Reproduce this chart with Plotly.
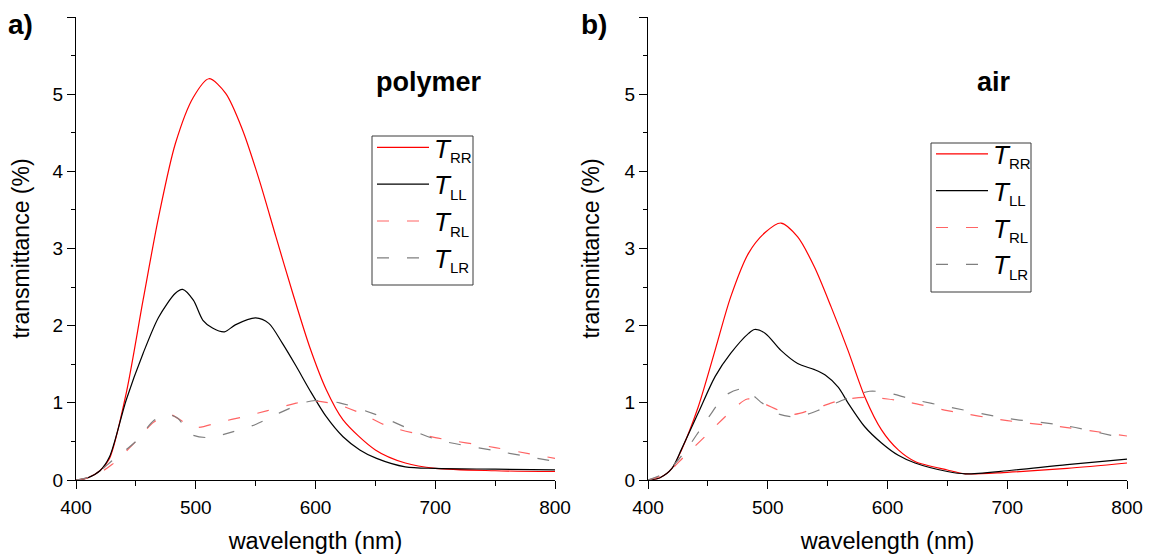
import plotly.graph_objects as go

# ---- data (wavelength in nm, transmittance in %) ----
wl_rr_a = [400, 410, 420, 428, 442, 456, 469, 483, 498, 511, 525, 539, 553, 567, 581, 595, 609, 623, 650, 675, 700, 750, 800]
t_rr_a = [0.0, 0.03, 0.12, 0.28, 1.13, 2.33, 3.41, 4.36, 4.96, 5.20, 5.01, 4.54, 3.89, 3.15, 2.42, 1.73, 1.17, 0.78, 0.39, 0.22, 0.15, 0.12, 0.11]

wl_ll_a = [400, 410, 420, 428, 442, 456, 469, 483, 489, 498, 506, 514, 524, 533, 550, 561, 572, 584, 595, 609, 623, 637, 651, 675, 700, 750, 800]
t_ll_a = [0.0, 0.03, 0.12, 0.3, 1.04, 1.64, 2.11, 2.42, 2.47, 2.33, 2.07, 1.97, 1.92, 2.01, 2.10, 2.03, 1.78, 1.47, 1.17, 0.82, 0.56, 0.39, 0.28, 0.17, 0.15, 0.14, 0.13]

wl_rl_a = [400, 415, 430, 450, 465, 478, 490, 500, 520, 540, 560, 580, 595, 620, 640, 660, 700, 750, 800]
t_rl_a = [0.0, 0.05, 0.2, 0.5, 0.75, 0.85, 0.75, 0.68, 0.75, 0.82, 0.9, 0.98, 1.03, 0.97, 0.85, 0.7, 0.55, 0.42, 0.28]

wl_lr_a = [400, 415, 430, 450, 465, 475, 485, 495, 510, 530, 550, 570, 590, 600, 620, 650, 700, 750, 800]
t_lr_a = [0.0, 0.06, 0.25, 0.5, 0.77, 0.85, 0.8, 0.6, 0.55, 0.62, 0.72, 0.87, 1.0, 1.03, 1.0, 0.85, 0.53, 0.38, 0.24]

wl_rr_b = [400, 410, 420, 428, 442, 456, 469, 484, 498, 511, 525, 539, 553, 567, 581, 595, 609, 623, 650, 665, 700, 750, 800]
t_rr_b = [0.0, 0.03, 0.15, 0.39, 0.95, 1.68, 2.37, 2.94, 3.21, 3.33, 3.15, 2.76, 2.24, 1.68, 1.08, 0.65, 0.39, 0.24, 0.13, 0.08, 0.1, 0.15, 0.22]

wl_ll_b = [400, 410, 420, 428, 442, 456, 469, 484, 489, 498, 511, 525, 539, 548, 559, 567, 581, 595, 609, 623, 650, 665, 700, 750, 800]
t_ll_b = [0.0, 0.03, 0.15, 0.4, 0.87, 1.34, 1.64, 1.90, 1.95, 1.90, 1.68, 1.51, 1.43, 1.36, 1.2, 1.0, 0.69, 0.48, 0.32, 0.22, 0.11, 0.08, 0.12, 0.2, 0.27]

wl_rl_b = [400, 415, 430, 450, 470, 483, 495, 520, 540, 560, 580, 600, 620, 650, 700, 750, 800]
t_rl_b = [0.0, 0.08, 0.3, 0.6, 0.9, 1.05, 1.0, 0.85, 0.93, 1.03, 1.07, 1.05, 1.0, 0.9, 0.77, 0.68, 0.57]

wl_lr_b = [400, 415, 430, 450, 465, 480, 495, 510, 525, 545, 565, 585, 600, 620, 650, 700, 750, 800]
t_lr_b = [0.0, 0.1, 0.35, 0.8, 1.1, 1.18, 1.0, 0.85, 0.82, 0.92, 1.05, 1.15, 1.13, 1.05, 0.95, 0.8, 0.7, 0.53]

subs = ["RR", "LL", "RL", "LR"]
names = [f"<i>T</i><sub><span style='font-size:15px'>{s}</span></sub>" for s in subs]
FONT = "Liberation Sans, Arial, sans-serif"
DASH = "12px,18px"

styles = [
    dict(color="#ff0000", width=1.2),
    dict(color="#000000", width=1.2),
    dict(color="#ff6464", width=1.2, dash=DASH),
    dict(color="#7f7f7f", width=1.2, dash=DASH),
]

fig = go.Figure()

panels = [
    ("x", "y", "legend", [(wl_rr_a, t_rr_a), (wl_ll_a, t_ll_a), (wl_rl_a, t_rl_a), (wl_lr_a, t_lr_a)]),
    ("x2", "y2", "legend2", [(wl_rr_b, t_rr_b), (wl_ll_b, t_ll_b), (wl_rl_b, t_rl_b), (wl_lr_b, t_lr_b)]),
]
for xa, ya, leg, series in panels:
    for (wl, t), name, st in zip(series, names, styles):
        fig.add_trace(go.Scatter(
            x=wl, y=t, name=name, mode="lines", line=dict(shape="spline", smoothing=0.8, **st),
            xaxis=xa, yaxis=ya, legend=leg,
        ))

axis_common = dict(
    showline=True, linecolor="black", linewidth=1, mirror=False,
    ticks="outside", ticklen=8, tickcolor="black", tickwidth=1,
    showgrid=False, zeroline=False, automargin=False,
    tickfont=dict(size=19, color="black", family=FONT),
)
xcommon = dict(axis_common, range=[400, 800], dtick=100, tick0=400, ticklabelstandoff=2,
               minor=dict(ticks="outside", ticklen=5, dtick=50, tickcolor="black", showgrid=False),
               title=dict(text="wavelength (nm)", font=dict(size=23.5, color="black", family=FONT), standoff=15))
ycommon = dict(axis_common, range=[0, 6], dtick=1, tick0=0,
               minor=dict(ticks="outside", ticklen=4, dtick=0.5, tickcolor="black", showgrid=False),
               title=dict(text="transmittance (%)", font=dict(size=23, color="black", family=FONT), standoff=18))

# the page body adds an 8px offset; reference pixel positions are mapped through it
O = 8
W, H = 1153 - O, 558 - O
L, R, T, B = 76, 1127, 17, 480
PW, PH = R - L, B - T


def px(x):
    return (x - L) / PW


def py(y):
    return (B - y) / PH


legend_style = dict(xanchor="left", yanchor="top", borderwidth=0, bgcolor="rgba(0,0,0,0)",
                    font=dict(size=26, family=FONT, color="black"), tracegroupgap=0, itemwidth=52)

box = dict(type="rect", xref="paper", yref="paper", line=dict(color="#3a3a3a", width=1),
           fillcolor="white", layer="below")

fig.update_layout(
    width=W, height=H,
    margin=dict(l=L - O, r=W - (R - O), t=T - O, b=H - (B - O), autoexpand=False),
    plot_bgcolor="rgba(0,0,0,0)", paper_bgcolor="white",
    font=dict(family=FONT, color="black"),
    xaxis=dict(xcommon, domain=[0, px(555)], anchor="y"),
    yaxis=dict(ycommon, domain=[0, 1], anchor="x"),
    xaxis2=dict(xcommon, domain=[px(648), 1], anchor="y2"),
    yaxis2=dict(ycommon, domain=[0, 1], anchor="x2"),
    legend=dict(legend_style, x=px(372), y=py(124)),
    legend2=dict(legend_style, x=px(931), y=py(130.5)),
    showlegend=True,
    shapes=[
        dict(box, x0=px(372), x1=px(473), y0=py(285), y1=py(136)),
        dict(box, x0=px(931), x1=px(1031), y0=py(292), y1=py(143)),
    ],
    annotations=[
        dict(text="<b>a)</b>", x=px(7), y=py(O), xref="paper", yref="paper",
             xanchor="left", yanchor="top", showarrow=False, borderpad=0,
             font=dict(size=28, family=FONT)),
        dict(text="<b>b)</b>", x=px(580), y=py(O), xref="paper", yref="paper",
             xanchor="left", yanchor="top", showarrow=False, borderpad=0,
             font=dict(size=28, family=FONT)),
        dict(text="<b>polymer</b>", x=px(429), y=py(82), xref="paper", yref="paper",
             xanchor="center", yanchor="middle", showarrow=False, font=dict(size=27, family=FONT)),
        dict(text="<b>air</b>", x=px(994), y=py(82), xref="paper", yref="paper",
             xanchor="center", yanchor="middle", showarrow=False, font=dict(size=27, family=FONT)),
    ],
)

fig.write_html("out.html")
